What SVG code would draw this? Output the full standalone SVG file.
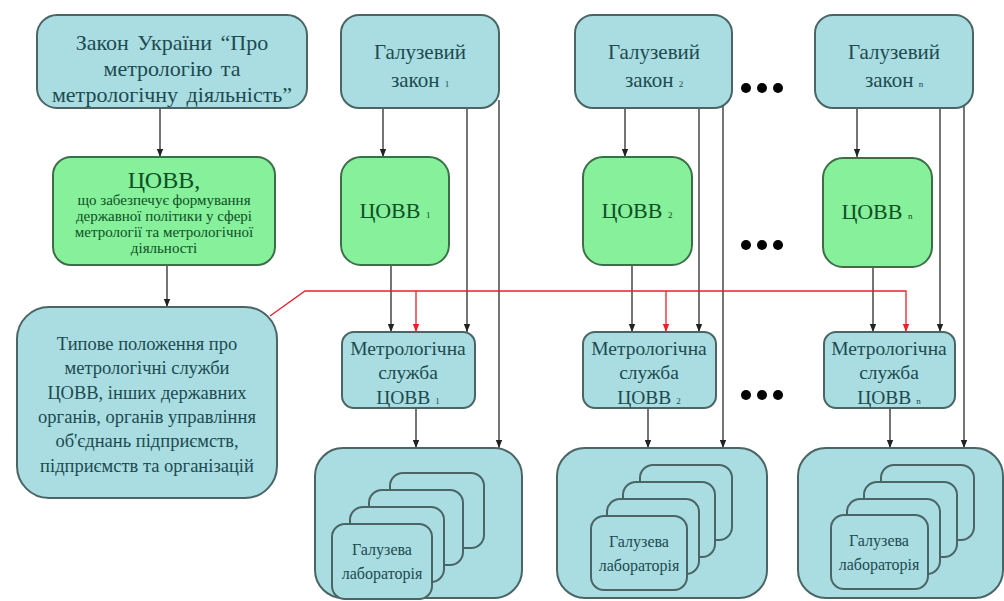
<svg xmlns="http://www.w3.org/2000/svg" width="1004" height="601" viewBox="0 0 1004 601">
<defs>
<marker id="ab" viewBox="0 0 8 8" refX="8" refY="4" markerWidth="8" markerHeight="8" markerUnits="userSpaceOnUse" orient="auto"><path d="M0,0.8 L8,4 L0,7.2 Z" fill="#222"/></marker>
<marker id="ar" viewBox="0 0 8 8" refX="8" refY="4" markerWidth="8" markerHeight="8" markerUnits="userSpaceOnUse" orient="auto"><path d="M0,0.8 L8,4 L0,7.2 Z" fill="#e8202a"/></marker>
<style>
.b{fill:#a9dde1;stroke:#4b6565;stroke-width:2}
.g{fill:#86f09a;stroke:#3c6e48;stroke-width:2}
.t{fill:#1d4a50;font-family:'Liberation Serif',serif;text-anchor:middle}
.tg{fill:#0e4f26;font-family:'Liberation Serif',serif;text-anchor:middle}
.c{stroke:#2a2a2a;stroke-width:1.3;fill:none}
.r{stroke:#e8202a;stroke-width:1.3;fill:none}
.d{fill:#000}
</style>
</defs>
<rect width="1004" height="601" fill="#ffffff"/>

<g id="connectors">
<line class="c" x1="160" y1="108" x2="160" y2="157" marker-end="url(#ab)"/>
<line class="c" x1="167" y1="265" x2="167" y2="307" marker-end="url(#ab)"/>
<line class="c" x1="383" y1="108" x2="383" y2="157" marker-end="url(#ab)"/>
<line class="c" x1="467" y1="108" x2="467" y2="332" marker-end="url(#ab)"/>
<line class="c" x1="499" y1="100" x2="499" y2="448" marker-end="url(#ab)"/>
<line class="c" x1="391" y1="265" x2="391" y2="332" marker-end="url(#ab)"/>
<line class="c" x1="416" y1="408" x2="416" y2="448" marker-end="url(#ab)"/>
<line class="c" x1="625" y1="108" x2="625" y2="157" marker-end="url(#ab)"/>
<line class="c" x1="699" y1="108" x2="699" y2="332" marker-end="url(#ab)"/>
<line class="c" x1="723" y1="104" x2="723" y2="448" marker-end="url(#ab)"/>
<line class="c" x1="632" y1="265" x2="632" y2="332" marker-end="url(#ab)"/>
<line class="c" x1="648" y1="408" x2="648" y2="448" marker-end="url(#ab)"/>
<line class="c" x1="857" y1="108" x2="857" y2="157" marker-end="url(#ab)"/>
<line class="c" x1="940" y1="108" x2="940" y2="332" marker-end="url(#ab)"/>
<line class="c" x1="964" y1="104" x2="964" y2="448" marker-end="url(#ab)"/>
<line class="c" x1="873" y1="267" x2="873" y2="332" marker-end="url(#ab)"/>
<line class="c" x1="890" y1="408" x2="890" y2="448" marker-end="url(#ab)"/>
<polyline class="r" points="270,316 305,291 906,291 906,332" marker-end="url(#ar)"/>
<line class="r" x1="416" y1="291" x2="416" y2="332" marker-end="url(#ar)"/>
<line class="r" x1="666" y1="291" x2="666" y2="332" marker-end="url(#ar)"/>
</g>

<g id="law-main">
<rect class="b" x="37" y="15" width="270" height="93" rx="20"/>
<text class="t" font-family="Liberation Serif" fill="#1d4a50" font-size="22" word-spacing="3"><tspan x="172" y="50">Закон України “Про</tspan><tspan x="172" y="76">метрологію та</tspan><tspan x="172" y="102">метрологічну діяльність”</tspan></text>
</g>

<g id="covv-main">
<rect class="g" x="53" y="157" width="222" height="108" rx="18"/>
<text class="tg" font-family="Liberation Serif" fill="#0e4f26"><tspan x="164" y="188" font-size="24">ЦОВВ,</tspan><tspan x="164" y="205" font-size="15">що забезпечує формування</tspan><tspan x="164" y="221" font-size="15">державної політики у сфері</tspan><tspan x="164" y="237" font-size="15">метрології та метрологічної</tspan><tspan x="164" y="253" font-size="15">діяльності</tspan></text>
</g>

<g id="typove">
<rect class="b" x="17" y="307" width="260" height="191" rx="32"/>
<text class="t" font-family="Liberation Serif" fill="#1d4a50" font-size="18.5"><tspan x="147" y="350">Типове положення про</tspan><tspan x="147" y="374">метрологічні служби</tspan><tspan x="147" y="399">ЦОВВ, інших державних</tspan><tspan x="147" y="423">органів, органів управління</tspan><tspan x="147" y="447">об'єднань підприємств,</tspan><tspan x="147" y="472">підприємств та організацій</tspan></text>
</g>

<g id="law-1">
<rect class="b" x="341" y="15" width="158" height="93" rx="18"/>
<text class="t" font-family="Liberation Serif" fill="#1d4a50" font-size="21"><tspan x="420" y="59">Галузевий</tspan><tspan x="420" y="87">закон <tspan font-size="9">1</tspan></tspan></text>
</g>
<g id="law-2">
<rect class="b" x="575" y="15" width="157" height="93" rx="18"/>
<text class="t" font-family="Liberation Serif" fill="#1d4a50" font-size="21"><tspan x="654" y="59">Галузевий</tspan><tspan x="654" y="87">закон <tspan font-size="9">2</tspan></tspan></text>
</g>
<g id="law-n">
<rect class="b" x="815" y="15" width="158" height="93" rx="18"/>
<text class="t" font-family="Liberation Serif" fill="#1d4a50" font-size="21"><tspan x="894" y="59">Галузевий</tspan><tspan x="894" y="87">закон <tspan font-size="9">n</tspan></tspan></text>
</g>

<g id="covv-1">
<rect class="g" x="341" y="157" width="108" height="108" rx="20"/>
<text class="tg" font-family="Liberation Serif" fill="#0e4f26" x="395" y="218" font-size="22">ЦОВВ <tspan font-size="9">1</tspan></text>
</g>
<g id="covv-2">
<rect class="g" x="583" y="157" width="109" height="108" rx="20"/>
<text class="tg" font-family="Liberation Serif" fill="#0e4f26" x="637" y="218" font-size="22">ЦОВВ <tspan font-size="9">2</tspan></text>
</g>
<g id="covv-n">
<rect class="g" x="823" y="158" width="109" height="109" rx="20"/>
<text class="tg" font-family="Liberation Serif" fill="#0e4f26" x="877" y="219" font-size="22">ЦОВВ <tspan font-size="9">n</tspan></text>
</g>

<g id="metr-1">
<rect class="b" x="342" y="332" width="133" height="76" rx="12"/>
<text class="t" font-family="Liberation Serif" fill="#1d4a50" font-size="19.5"><tspan x="408" y="355">Метрологічна</tspan><tspan x="408" y="379">служба</tspan><tspan x="408" y="404">ЦОВВ <tspan font-size="9">1</tspan></tspan></text>
</g>
<g id="metr-2">
<rect class="b" x="583" y="332" width="133" height="76" rx="12"/>
<text class="t" font-family="Liberation Serif" fill="#1d4a50" font-size="19.5"><tspan x="649" y="355">Метрологічна</tspan><tspan x="649" y="379">служба</tspan><tspan x="649" y="404">ЦОВВ <tspan font-size="9">2</tspan></tspan></text>
</g>
<g id="metr-n">
<rect class="b" x="824" y="332" width="131" height="76" rx="12"/>
<text class="t" font-family="Liberation Serif" fill="#1d4a50" font-size="19.5"><tspan x="889" y="355">Метрологічна</tspan><tspan x="889" y="379">служба</tspan><tspan x="889" y="404">ЦОВВ <tspan font-size="9">n</tspan></tspan></text>
</g>

<g id="labs-1">
<rect class="b" x="315" y="448" width="207" height="150" rx="28"/>
<rect class="b" x="390" y="473" width="94" height="75" rx="13"/>
<rect class="b" x="369" y="490" width="94" height="75" rx="13"/>
<rect class="b" x="350" y="507" width="94" height="75" rx="13"/>
<rect class="b" x="332" y="524" width="100" height="75" rx="13"/>
<text class="t" font-family="Liberation Serif" fill="#1d4a50" font-size="16"><tspan x="382" y="555">Галузева</tspan><tspan x="382" y="579">лабораторія</tspan></text>
</g>
<g id="labs-2">
<rect class="b" x="557" y="448" width="210" height="150" rx="28"/>
<rect class="b" x="640" y="465" width="92" height="75" rx="13"/>
<rect class="b" x="623" y="482" width="92" height="75" rx="13"/>
<rect class="b" x="607" y="499" width="92" height="75" rx="13"/>
<rect class="b" x="591" y="516" width="96" height="74" rx="13"/>
<text class="t" font-family="Liberation Serif" fill="#1d4a50" font-size="16"><tspan x="639" y="547">Галузева</tspan><tspan x="639" y="571">лабораторія</tspan></text>
</g>
<g id="labs-n">
<rect class="b" x="798" y="448" width="205" height="150" rx="28"/>
<rect class="b" x="881" y="465" width="93" height="75" rx="13"/>
<rect class="b" x="864" y="482" width="93" height="75" rx="13"/>
<rect class="b" x="847" y="499" width="93" height="75" rx="13"/>
<rect class="b" x="831" y="515" width="97" height="74" rx="13"/>
<text class="t" font-family="Liberation Serif" fill="#1d4a50" font-size="16"><tspan x="879" y="546">Галузева</tspan><tspan x="879" y="570">лабораторія</tspan></text>
</g>

<g id="dots">
<circle class="d" cx="746" cy="88" r="5"/><circle class="d" cx="762" cy="88" r="5"/><circle class="d" cx="778" cy="88" r="5"/>
<circle class="d" cx="746" cy="245" r="5"/><circle class="d" cx="762" cy="245" r="5"/><circle class="d" cx="778" cy="245" r="5"/>
<circle class="d" cx="746" cy="395" r="5"/><circle class="d" cx="762" cy="395" r="5"/><circle class="d" cx="778" cy="395" r="5"/>
</g>
</svg>
